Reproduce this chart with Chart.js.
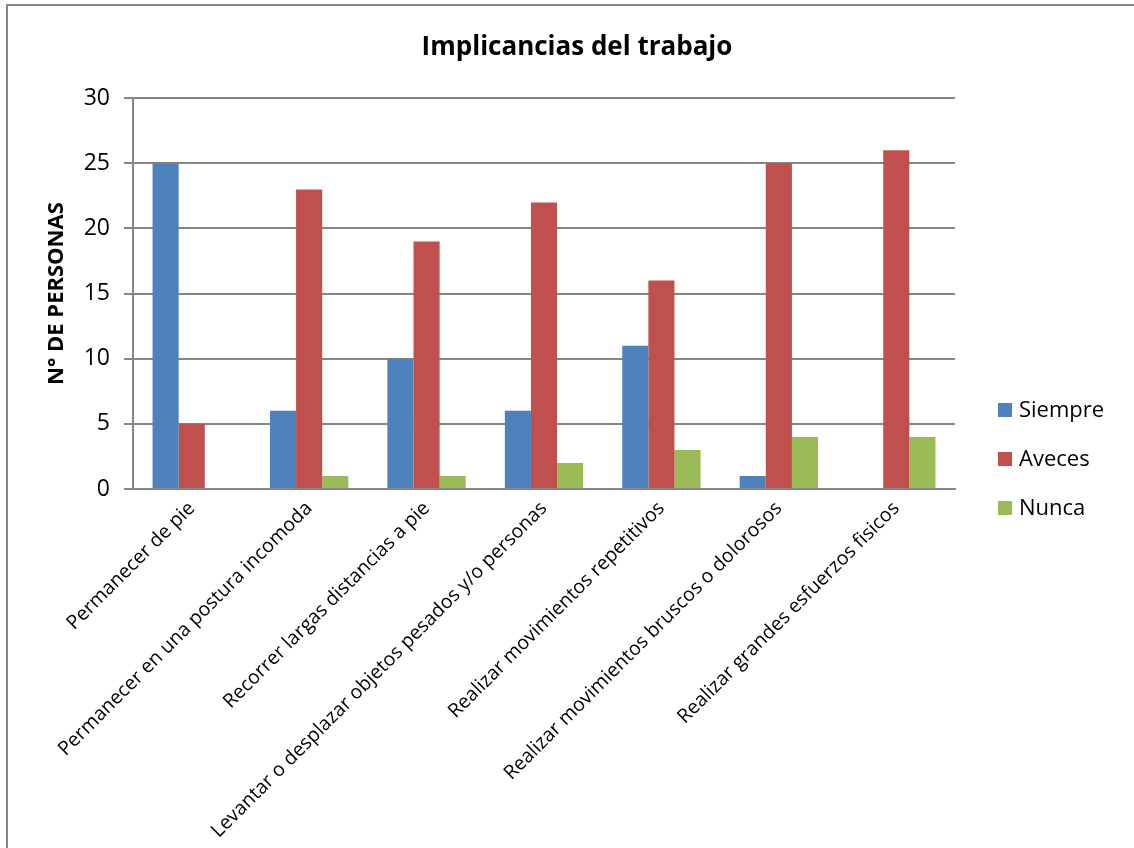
<!DOCTYPE html>
<html>
<head>
<meta charset="utf-8">
<script src="https://cdn.jsdelivr.net/npm/chart.js@4"></script>
<style>
  html, body { margin: 0; padding: 0; background: #fff; overflow: hidden; }
  #frame { position: absolute; left: 6px; top: 4px; width: 1140px; height: 900px; border-left: 2px solid #868686; border-top: 2px solid #868686; }
  #wrap { position: absolute; left: 0; top: 0; width: 1134px; height: 848px; }
</style>
</head>
<body>
<div id="frame"></div>
<div id="wrap"><canvas id="implicanciasChart"></canvas></div>
<script>
/* Implicancias del trabajo */
const categories = [
  'Permanecer de pie',
  'Permanecer en una postura incomoda',
  'Recorrer largas distancias a pie',
  'Levantar o desplazar objetos pesados y/o personas',
  'Realizar movimientos repetitivos',
  'Realizar movimientos bruscos o dolorosos',
  'Realizar grandes esfuerzos fisicos'
];
const siempre = [25, 6, 10, 6, 11, 1, 0];
const aveces = [5, 23, 19, 22, 16, 25, 26];
const nunca = [0, 1, 1, 2, 3, 4, 4];
const yTicks = [0, 5, 10, 15, 20, 25, 30];

const FONT = "'Open Sans', sans-serif";
const GRID = '#868686';

// legend drawn at the right like the original sheet
const sideLegend = {
  id: 'sideLegend',
  afterDraw(chart) {
    const { ctx } = chart;
    const x = 998, yMid = 459, gap = 49, box = 14;
    const sets = chart.data.datasets;
    const y0 = yMid - gap * (sets.length - 1) / 2;
    ctx.save();
    ctx.font = '22px ' + FONT;
    ctx.textBaseline = 'middle';
    ctx.textAlign = 'left';
    sets.forEach((ds, i) => {
      const y = y0 + i * gap;
      ctx.fillStyle = ds.backgroundColor;
      ctx.fillRect(x, y - box / 2, box, box);
      ctx.fillStyle = '#000';
      ctx.fillText(ds.label, x + 21, y + 1);
    });
    ctx.restore();
  }
};

new Chart(document.getElementById('implicanciasChart'), {
  type: 'bar',
  data: {
    labels: categories,
    datasets: [
      { label: 'Siempre', data: siempre, backgroundColor: '#4F81BD' },
      { label: 'Aveces', data: aveces, backgroundColor: '#C0504D' },
      { label: 'Nunca', data: nunca, backgroundColor: '#9BBB59' }
    ]
  },
  options: {
    responsive: true,
    maintainAspectRatio: false,
    animation: false,
    datasets: { bar: { categoryPercentage: 0.667, barPercentage: 1.0 } },
    layout: { padding: { left: 20, right: 0, top: 0, bottom: 0 } },
    plugins: {
      legend: { display: false },
      tooltip: { enabled: false },
      title: {
        display: true,
        text: 'Implicancias del trabajo',
        color: '#000',
        font: { family: FONT, size: 26, weight: 'bold' },
        padding: { top: 32, bottom: 35 }
      }
    },
    scales: {
      x: {
        grid: { display: false, drawTicks: false },
        border: { display: true, color: GRID, width: 2 },
        ticks: {
          color: '#000',
          font: { family: FONT, size: 19.5 },
          minRotation: 45, maxRotation: 45,
          padding: 8,
          autoSkip: false
        },
        afterFit(scale) { scale.height = 359; }
      },
      y: {
        min: 0, max: 30,
        afterBuildTicks(scale) { scale.ticks = yTicks.map(v => ({ value: v })); },
        grid: { color: GRID, lineWidth: 2, tickLength: 9, drawTicks: true },
        border: { display: true, color: GRID, width: 2 },
        ticks: { color: '#000', font: { family: FONT, size: 23 }, padding: 14 },
        title: {
          display: true,
          text: 'N° DE PERSONAS',
          color: '#000',
          font: { family: FONT, size: 22, weight: 'bold' },
          padding: { top: 24, bottom: 0 }
        },
        afterFit(scale) { scale.width = 113; }
      },
      // empty space on the right that holds the legend
      legendSpace: {
        type: 'linear',
        position: 'right',
        display: true,
        grid: { display: false, drawTicks: false },
        border: { display: false },
        ticks: { display: false },
        afterFit(scale) { scale.width = 179; }
      }
    }
  },
  plugins: [sideLegend]
});
</script>
</body>
</html>
